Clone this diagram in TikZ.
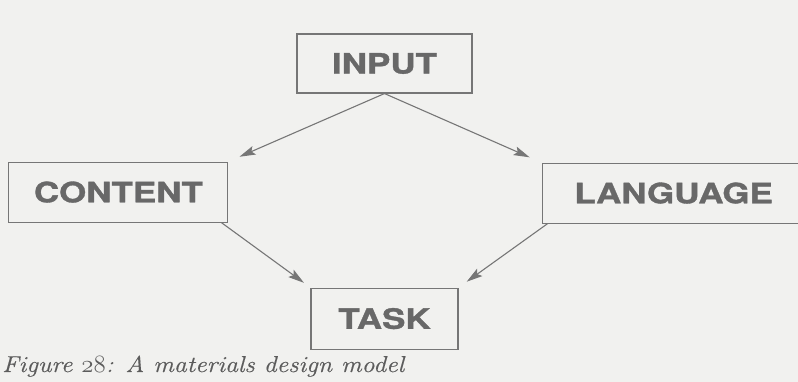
\documentclass[tikz,border=0pt]{standalone}
\usepackage{fontspec}
\usepackage{tikz}
\usetikzlibrary{arrows.meta, positioning}
\newfontfamily\boxfont[FakeStretch=1.25, FakeBold=1.2]{TeX Gyre Heros}
\newfontfamily\captionfont[FakeStretch=1.12, FakeBold=0.4]{Latin Modern Roman}
\definecolor{pageGrey}{RGB}{241,241,239}
\definecolor{inkGrey}{RGB}{104,104,104}
\definecolor{lineGrey}{RGB}{118,118,118}
\definecolor{captionGrey}{RGB}{92,92,92}

\begin{document}
\begin{tikzpicture}[
    x=1pt, y=-1pt,
    node distance=68pt and 68pt,
    stage/.style={rectangle, draw=lineGrey, line width=1.1pt, text=inkGrey,
        font=\boxfont\bfseries\fontsize{28}{28}\selectfont},
    arrow/.style={-{Stealth[length=16pt, width=9pt, inset=3pt]}, draw=lineGrey, line width=1.1pt}
]

% Page
\fill[pageGrey] (0,0) rectangle (798,382);
\clip (0,0) rectangle (798,382);

% Stages of the model
\node[stage, minimum width=175pt, minimum height=59pt] (input) at (384.5,63.5) {INPUT};
\node[stage, minimum width=219pt, minimum height=60pt, below left=of input] (content) {CONTENT};
\node[stage, minimum width=263pt, minimum height=60pt, below right=69pt and 69pt of input] (language) {LANGUAGE};
\node[stage, minimum width=147pt, minimum height=61pt, below=194pt of input] (task) {TASK};

% Arrows
\draw[arrow, shorten >=12pt] (input.south) -- (content.north east);
\draw[arrow, shorten >=13pt] (input.south) -- (language.north west);
\draw[arrow, shorten >=8pt] ([xshift=-7pt]content.south east) -- (task.north west);
\draw[arrow, shorten >=10pt] ([xshift=6pt]language.south west) -- (task.north east);

% Caption
\node[anchor=base west, inner sep=0pt, text=captionGrey,
    font=\captionfont\fontsize{23}{23}\selectfont\itshape] (caption) at (2,372)
    {Figure {\usefont{OML}{lmm}{m}{it}\fontsize{23}{23}\selectfont 28}: A materials design model};

\end{tikzpicture}
\end{document}
